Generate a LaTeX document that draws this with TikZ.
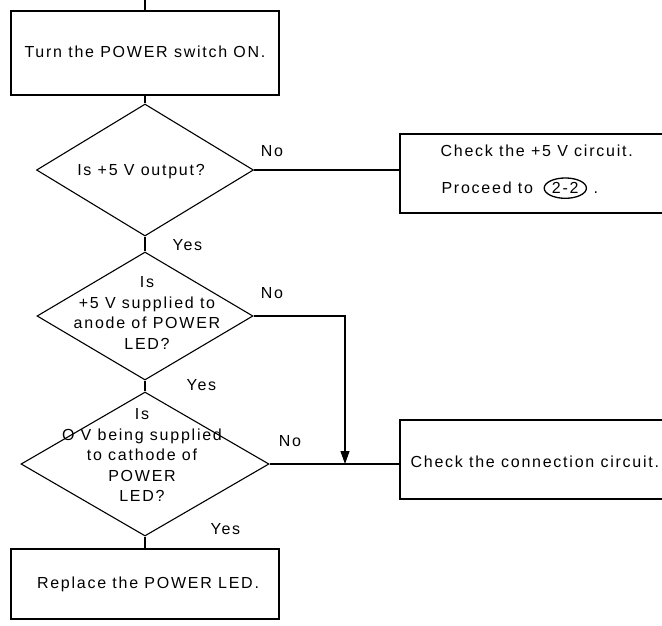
\documentclass[tikz,border=0pt]{standalone}
\usepackage{fontspec}
\setmainfont{Liberation Sans}[LetterSpace=11]
\usetikzlibrary{shapes.geometric,arrows.meta,positioning}

\begin{document}
\begin{tikzpicture}[
    x=1pt, y=-1pt,
    font=\fontsize{16}{20.5}\selectfont,
    line width=1.1pt,
    actbox/.style={draw, minimum width=268pt, inner sep=0pt},
    sidebox/.style={draw, minimum width=300pt, inner sep=0pt},
    dia/.style={draw, diamond, inner sep=0pt},
    txt/.style={inner sep=0pt, align=center},
    lbl/.style={inner sep=0pt}
]
\clip (0,0) rectangle (662,625);

% main column
\coordinate (tin) at (145,0);
\node[actbox, minimum height=84pt] (start) at (145,53) {};
\node[txt] (startt) at (145,52) {Turn the POWER switch ON.};

\node[dia, minimum width=217pt, minimum height=132pt] (d1) at (145,170) {};
\node[txt] (d1t) at (141,172) {Is +5 V output?};

\node[dia, minimum width=216pt, minimum height=128pt] (d2) at (145,316) {};
\node[txt] (d2t) at (147,313) {Is\\+5 V supplied to\\anode of POWER\\LED?};

\node[dia, minimum width=248pt, minimum height=144pt] (d3) at (145,464) {};
\node[txt] (d3t) at (142,455) {Is\\O V being supplied\\to cathode of\\POWER\\LED?};

\node[actbox, minimum height=70pt] (repl) at (145,584) {};
\node[txt] (replt) at (148,584) {Replace the POWER LED.};

% right column
\node[sidebox, minimum height=79pt] (chk5) at (550,173.5) {};
\node[txt, anchor=west] (chk5t) at (440,151) {Check the +5 V circuit.};
\node[txt, anchor=west] (proc) at (441,188) {Proceed to};
\node[draw, ellipse, inner sep=1.6pt, line width=1.3pt, right=10pt of proc.base east, anchor=base west] (ref22) {2-2};
\node[lbl, right=6pt of ref22.base east, anchor=base west] (dot) {.};

\node[sidebox, minimum height=79pt] (conn) at (550,459.5) {};
\node[txt, anchor=west] (connt) at (410,462) {Check the connection circuit.};

% branch labels
\node[lbl] (no1) at (272,151) {No};
\node[lbl] (no2) at (272,293) {No};
\node[lbl] (no3) at (290,441) {No};
\node[lbl, anchor=west] (yes1) at (172,245) {Yes};
\node[lbl, anchor=west] (yes2) at (186,385) {Yes};
\node[lbl, anchor=west] (yes3) at (210,529) {Yes};

% connectors
\draw (tin) -- (start.north);
\foreach \a/\b in {start/d1, d1/d2, d2/d3, d3/repl}
  \draw (\a.south) -- (\b.north);
\draw (d1.east) -- (d1.east -| chk5.west);
\coordinate (join) at (345,464);
\draw (d3.east) -- (d3.east -| conn.west);
\draw[-{Triangle[length=13pt,width=9pt]}] (d2.east) -| (join);
\end{tikzpicture}
\end{document}
